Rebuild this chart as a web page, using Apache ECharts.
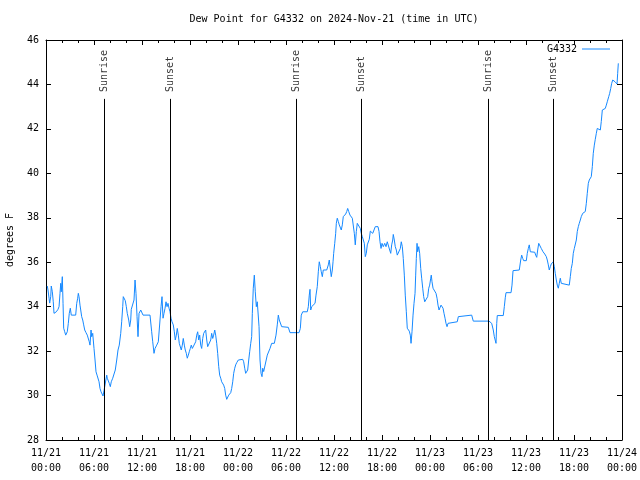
<!DOCTYPE html>
<html><head><meta charset="utf-8">
<script src="https://cdn.jsdelivr.net/npm/echarts@6/dist/echarts.min.js"></script>
<style>html,body{margin:0;padding:0;background:#fff}#c{width:640px;height:480px}</style>
</head><body><div id="c"></div>
<script>
// hours since 2024-11-21 00:00 UTC
const hours = [
0.16,0.25,0.38,0.46,0.59,0.66,0.79,0.91,1.0,1.13,
1.29,1.5,1.63,1.75,1.84,1.91,2.04,2.13,2.21,2.34,
2.46,2.59,2.66,2.79,2.91,3.04,3.16,3.71,3.84,3.96,
4.04,4.13,4.25,4.34,4.46,4.59,4.71,4.84,5.0,5.16,
5.29,5.41,5.5,5.63,5.71,5.84,5.91,6.0,6.13,6.25,
6.38,6.5,6.63,6.75,6.88,7.0,7.13,7.25,7.41,7.59,
7.66,7.79,7.91,8.04,8.16,8.34,8.5,8.66,8.84,9.0,
9.16,9.34,9.46,9.59,9.66,9.79,9.91,10.04,10.16,10.34,
10.46,10.59,10.66,10.91,11.0,11.13,11.25,11.38,11.5,11.63,
11.84,12.0,12.13,13.0,
13.21,13.34,13.5,13.63,13.84,14.04,14.25,14.38,14.5,14.63,
14.75,14.88,15.0,15.13,15.25,15.38,15.5,15.63,15.75,15.91,
16.04,16.16,16.29,16.41,16.54,16.66,16.79,16.91,17.04,17.16,
17.29,17.41,17.54,17.66,17.79,17.91,18.04,18.16,18.29,18.41,
18.54,18.71,18.84,18.96,19.09,19.21,19.34,19.46,19.59,19.71,
19.84,19.96,20.09,20.21,20.34,20.46,20.59,20.71,20.84,20.96,
21.09,21.21,21.34,21.46,21.59,21.71,21.84,21.96,22.09,22.21,
22.34,22.46,22.59,22.71,22.84,22.96,23.09,23.21,23.34,23.46,
23.59,23.71,23.84,24.04,24.25,24.59,24.71,24.84,24.96,25.09,
25.21,25.34,25.46,25.59,25.71,25.79,25.91,26.04,26.16,26.29,
26.41,26.54,26.63,26.75,26.88,27.0,27.09,27.21,27.29,27.44,
27.66,28.0,28.21,28.54,28.75,28.91,29.04,29.16,29.46,29.59,
30.29,30.5,31.63,31.79,31.91,32.09,32.66,32.79,32.91,33.0,
33.09,33.21,33.41,33.63,33.75,33.91,34.04,34.16,34.29,34.41,
34.54,34.66,35.09,35.29,35.41,35.54,35.66,35.79,35.88,35.96,
36.09,36.21,36.29,36.41,36.54,36.66,36.79,36.91,37.04,37.16,
37.29,37.46,37.59,37.71,37.84,38.0,38.16,38.29,38.41,38.54,
38.66,38.79,38.91,39.16,39.29,39.41,39.54,39.66,39.79,39.91,
40.04,40.16,40.29,40.41,40.54,40.66,40.84,41.0,41.16,41.34,
41.5,41.63,41.75,41.88,42.0,42.16,42.34,42.5,42.66,42.84,
42.96,43.09,43.21,43.34,43.41,43.54,43.66,43.79,43.91,44.16,
44.29,44.41,44.54,44.66,44.79,44.91,45.04,45.16,45.29,45.41,
45.54,45.63,45.75,45.88,46.0,46.13,46.21,46.29,46.38,46.46,
46.59,46.71,46.84,46.96,47.09,47.21,47.34,47.59,47.71,47.84,
47.96,48.09,48.16,48.25,48.38,48.5,48.63,48.75,48.88,49.0,
49.13,49.25,49.38,49.5,49.63,49.75,49.88,50.0,50.13,50.25,
50.38,51.41,51.54,51.66,53.21,53.41,55.38,55.71,55.91,56.04,
56.16,56.25,56.34,56.41,57.16,57.29,57.41,57.5,58.13,58.25,
58.38,59.16,59.34,59.46,59.59,59.71,60.04,60.16,60.29,60.41,
60.54,61.09,61.21,61.34,61.46,61.59,61.71,61.91,62.13,62.34,
62.54,62.66,62.79,62.91,63.04,63.16,63.29,63.41,63.54,63.66,
63.79,63.91,64.04,64.16,64.29,64.41,64.54,65.41,65.54,65.66,
65.79,65.91,66.04,66.16,66.29,66.41,66.54,66.66,66.79,66.91,
67.09,67.25,67.41,67.54,67.66,67.79,67.91,68.04,68.16,68.29,
68.41,68.54,68.66,68.79,68.91,69.04,69.16,69.29,69.41,69.54,
69.66,69.91,70.04,70.16,70.34,70.46,70.59,70.71,70.84,71.0,
71.13,71.25,71.38,71.46,71.54
];
const dewPoint = [
34.93,34.75,34.38,34.16,34.45,34.93,34.67,34.22,33.70,33.62,
33.77,33.88,34.0,34.6,35.05,34.67,35.35,34.15,33.03,32.87,
32.72,32.65,32.87,33.25,33.70,33.93,33.62,33.62,34.15,34.38,
34.6,34.45,34.07,33.85,33.55,33.4,33.18,32.95,32.83,32.72,
32.65,32.42,32.27,32.95,32.65,32.8,32.5,32.12,31.6,31.07,
30.92,30.85,30.62,30.32,30.17,30.1,29.98,30.22,30.28,30.92,
30.78,30.85,30.55,30.4,30.62,30.78,30.85,31.15,31.6,32.05,
32.27,32.8,33.32,34.0,34.45,34.38,34.27,34.0,33.7,33.4,
33.1,33.4,33.88,33.88,34.3,35.2,34.6,33.55,32.65,33.7,
33.85,33.93,33.62,33.62,
32.87,32.42,31.9,32.12,32.27,32.42,33.4,34.0,34.45,33.48,
33.7,33.93,34.22,34.0,34.15,33.93,33.77,33.48,33.32,33.18,
32.87,32.5,32.72,33.02,32.72,32.35,32.27,32.05,32.27,32.57,
32.27,32.05,31.9,31.68,31.82,31.97,32.12,32.27,32.12,32.05,
32.2,32.42,32.72,32.87,32.5,32.72,32.27,32.12,32.57,32.8,
32.87,32.95,32.5,32.2,32.12,32.12,32.5,32.8,32.57,32.72,
32.95,32.72,32.35,31.9,31.3,30.92,30.78,30.62,30.7,30.47,
30.32,30.02,29.83,29.92,30.02,30.1,30.13,30.32,30.62,31.0,
31.23,31.38,31.48,31.6,31.63,31.63,31.52,31.23,31.0,30.92,
31.15,31.6,31.97,32.35,32.65,33.7,34.83,35.42,34.67,34.0,
34.22,34.3,33.1,31.6,31.0,30.85,31.23,31.08,31.15,31.0,
31.82,32.12,32.35,32.35,32.72,33.18,33.62,33.4,33.1,33.07,
33.07,32.83,32.83,33.02,33.62,33.77,33.77,34.0,34.52,34.78,
33.85,34.0,34.07,34.15,34.52,34.9,35.57,36.02,35.8,35.57,
35.35,35.65,35.65,35.88,36.1,36.17,35.35,35.65,36.02,36.4,
36.85,37.3,37.75,37.98,37.83,37.68,37.6,37.45,37.68,38.05,
38.12,38.17,38.28,38.42,38.28,38.12,38.08,37.98,37.9,37.3,
36.78,37.38,37.75,37.75,37.52,37.3,37.15,37.18,36.85,36.25,
36.4,36.78,36.85,37.03,37.4,37.48,37.3,37.45,37.6,37.68,
37.6,37.38,36.92,36.62,36.85,36.7,36.85,36.7,36.92,36.92,
36.55,36.4,36.78,37.0,37.25,37.0,36.7,36.55,36.32,36.32,
36.62,36.92,36.7,36.17,35.42,34.52,33.77,33.03,32.95,32.9,
32.72,32.35,32.87,33.62,34.15,34.6,35.42,36.17,36.85,36.47,
36.7,36.4,35.72,35.28,34.83,34.45,34.22,34.22,34.45,34.83,
34.97,35.28,35.42,35.12,34.83,34.75,34.75,34.6,34.38,34.07,
33.85,33.93,34.07,34.07,33.93,33.7,33.48,33.25,33.1,33.25,
33.32,33.32,33.55,33.62,33.62,33.35,33.35,33.25,32.95,32.65,
32.72,32.35,33.25,33.6,33.6,34.0,34.4,34.63,34.63,34.97,
35.62,35.65,36.1,36.32,36.17,36.07,36.07,36.4,36.62,36.78,
36.47,36.45,36.32,36.22,36.55,36.85,36.78,36.62,36.47,36.37,
36.25,36.1,35.88,35.65,35.8,35.92,35.95,36.02,35.8,35.5,
35.2,34.97,34.83,35.05,35.28,35.05,34.97,34.97,35.35,35.72,
35.95,36.4,36.62,36.7,37.0,37.38,37.6,37.75,37.9,38.05,
38.2,38.28,38.28,38.65,39.1,39.55,39.7,39.78,39.85,40.3,
40.9,41.27,41.53,41.8,42.02,42.1,42.02,41.95,42.33,42.85,
42.92,42.92,43.07,43.22,43.45,43.6,43.82,44.05,44.2,44.2,
44.12,44.05,44.02,44.5,44.95
];
const xTickLabels = ['11/21\n00:00','11/21\n06:00','11/21\n12:00','11/21\n18:00','11/22\n00:00','11/22\n06:00','11/22\n12:00','11/22\n18:00','11/23\n00:00','11/23\n06:00','11/23\n12:00','11/23\n18:00','11/24\n00:00'];
const sunEventHours = [7.28, 15.52, 31.27, 39.42, 55.27, 63.42];
const sunEventNames = ['Sunrise','Sunset','Sunrise','Sunset','Sunrise','Sunset'];
const seriesName = 'G4332';

const FONT = 'DejaVu Sans Mono';
const BLUE = '#1589ff';
const Y_MIN = 28, Y_MAX = 46;
const SUN_LINE_TOP = 43.35, SUN_LABEL_BASE = 43.66;

const axisCommon = {
  type: 'value', min: 0, max: 72, interval: 6,
  axisLine: { show: true, onZero: false, lineStyle: { color: '#000', width: 1 } },
  axisTick: { show: true, inside: true, length: 5, lineStyle: { color: '#000' } },
  minorTick: { show: true, splitNumber: 3, length: 3, lineStyle: { color: '#000' } },
  splitLine: { show: false }, minorSplitLine: { show: false }
};
const yCommon = {
  type: 'value', min: Y_MIN, max: Y_MAX, interval: 2,
  axisLine: { show: true, onZero: false, lineStyle: { color: '#000', width: 1 } },
  axisTick: { show: true, inside: true, length: 5, lineStyle: { color: '#000' } },
  splitLine: { show: false }
};

const chart = echarts.init(document.getElementById('c'), null, { renderer: 'canvas' });
chart.setOption({
  animation: false,
  backgroundColor: '#fff',
  textStyle: { fontFamily: FONT, fontSize: 10, color: '#000' },
  title: {
    text: 'Dew Point for G4332 on 2024-Nov-21 (time in UTC)',
    left: 334, textAlign: 'center', top: 14, padding: 0,
    textStyle: { fontFamily: FONT, fontSize: 10, fontWeight: 'normal', color: '#000' }
  },
  grid: { left: 46, right: 18, top: 40, bottom: 40, containLabel: false, outerBoundsMode: 'none' },
  legend: {
    data: [seriesName], right: 30, top: 44, align: 'right', icon: 'rect', padding: 0,
    itemWidth: 28, itemHeight: 1, itemGap: 0,
    textStyle: { fontFamily: FONT, fontSize: 10, color: '#000' }
  },
  xAxis: [
    Object.assign({}, axisCommon, {
      position: 'bottom',
      axisLabel: { formatter: v => xTickLabels[Math.round(v / 6)], lineHeight: 15, margin: 6,
        color: '#000', fontFamily: FONT, fontSize: 10 }
    }),
    Object.assign({}, axisCommon, { position: 'top', axisLabel: { show: false } })
  ],
  yAxis: [
    Object.assign({}, yCommon, {
      position: 'left',
      name: 'degrees F', nameLocation: 'middle', nameGap: 31, nameRotate: 90,
      nameTextStyle: { fontFamily: FONT, fontSize: 10, color: '#000' },
      axisLabel: { margin: 7, color: '#000', fontFamily: FONT, fontSize: 10 }
    }),
    Object.assign({}, yCommon, { position: 'right', axisLabel: { show: false } })
  ],
  series: [
    {
      name: seriesName, type: 'line',
      data: hours.map((h, i) => [h, dewPoint[i]]),
      symbol: 'none', showSymbol: false,
      lineStyle: { width: 1, color: BLUE }, itemStyle: { color: BLUE },
      markLine: {
        silent: true, symbol: 'none', animation: false,
        lineStyle: { color: '#000', width: 1, type: 'solid' },
        label: { show: false },
        data: sunEventHours.map(h => [{ coord: [h, Y_MIN] }, { coord: [h, SUN_LINE_TOP] }])
      }
    },
    {
      name: 'sun', type: 'scatter', symbolSize: 0, silent: true, clip: false,
      data: sunEventHours.map((h, i) => ({ value: [h, SUN_LABEL_BASE], name: sunEventNames[i] })),
      label: {
        show: true, formatter: '{b}', position: 'inside', rotate: 90,
        align: 'left', verticalAlign: 'middle',
        fontFamily: FONT, fontSize: 10, color: '#000'
      }
    }
  ]
});
</script>
</body></html>
